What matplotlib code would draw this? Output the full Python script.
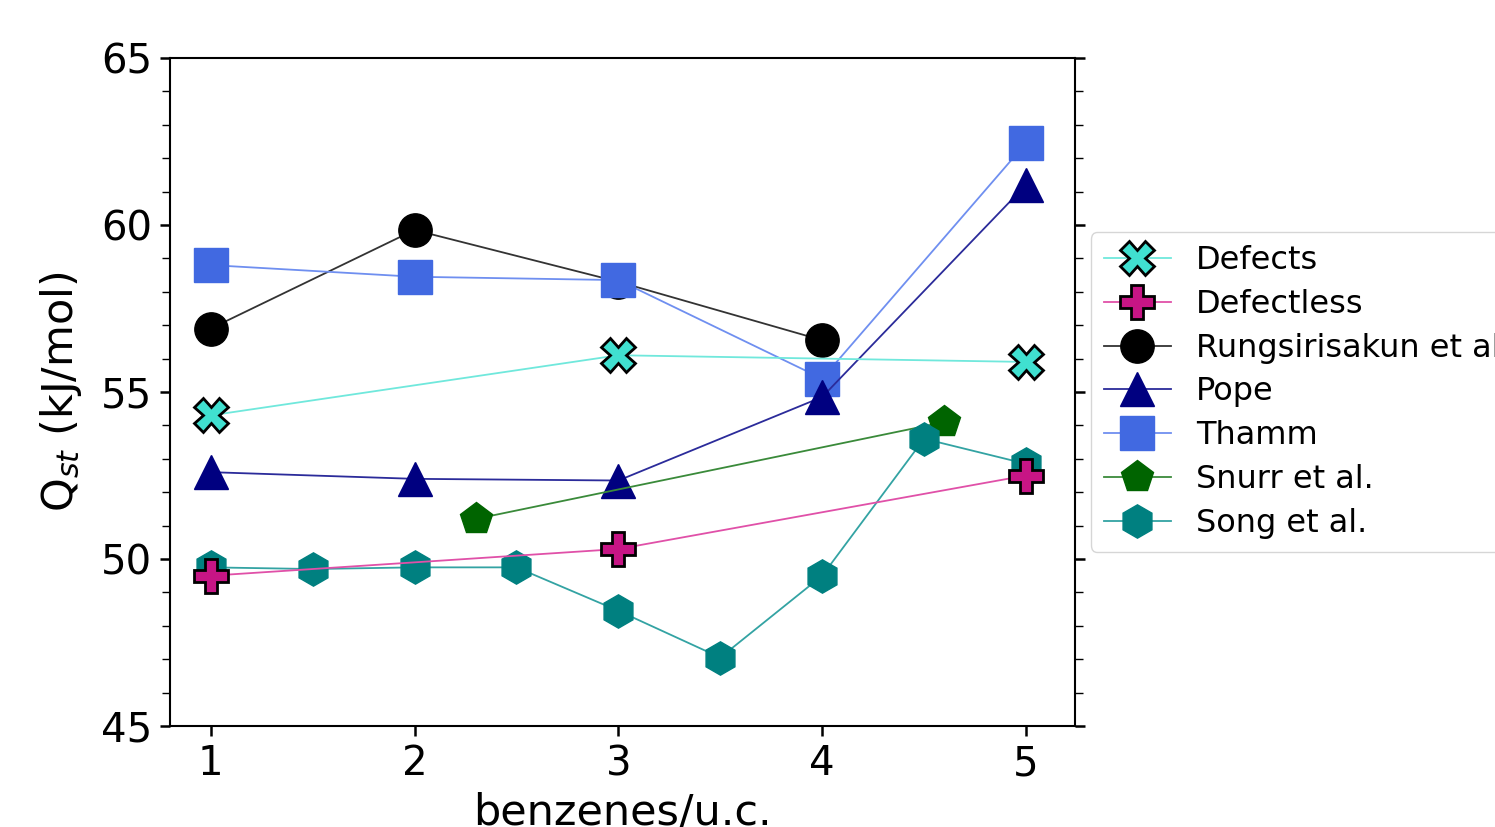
import numpy as np
import matplotlib
matplotlib.use("Agg")
import matplotlib.pyplot as plt
from matplotlib.ticker import MultipleLocator

# data
x_def = [1, 3, 5]
q_def = [54.3, 56.1, 55.9]
x_defless = [1, 3, 5]
q_defless = [49.5, 50.3, 52.5]
x_rung = [1, 2, 3, 4]
q_rung = [56.9, 59.85, 58.3, 56.55]
x_pope = [1, 2, 3, 4, 5]
q_pope = [52.6, 52.4, 52.35, 54.85, 61.2]
x_thamm = [1, 2, 3, 4, 5]
q_thamm = [58.8, 58.45, 58.35, 55.4, 62.45]
x_snurr = [2.3, 4.6]
q_snurr = [51.2, 54.1]
x_song = [1, 1.5, 2, 2.5, 3, 3.5, 4, 4.5, 5]
q_song = [49.75, 49.7, 49.75, 49.75, 48.45, 47.05, 49.5, 53.6, 52.85]

fig = plt.figure(figsize=(14.95, 8.27), dpi=100)
ax = fig.add_axes([0.1137, 0.1221, 0.6053, 0.8078])

ms = 24
lw = 1.3
h = {}
# lines are a bit lighter than the marker faces
h['rung'], = ax.plot(x_rung, q_rung, '-o', color='#333333', mfc='black', mec='black',
                     lw=lw, ms=ms, label='Rungsirisakun et al.')
h['thamm'], = ax.plot(x_thamm, q_thamm, '-s', color='#6f8ff0', mfc='royalblue', mec='royalblue',
                      lw=lw, ms=ms, label='Thamm')
h['pope'], = ax.plot(x_pope, q_pope, '-^', color='#2b2b9a', mfc='navy', mec='navy',
                     lw=lw, ms=ms, label='Pope')
h['snurr'], = ax.plot(x_snurr, q_snurr, '-p', color='#3a8a3a', mfc='darkgreen', mec='darkgreen',
                      lw=lw, ms=ms, label='Snurr et al.')
h['song'], = ax.plot(x_song, q_song, '-h', color='#33a3a3', mfc='teal', mec='teal',
                     lw=lw, ms=ms, label='Song et al.')
h['def'], = ax.plot(x_def, q_def, '-X', color='#70e8dc', mfc='turquoise', mec='black',
                    mew=2, lw=lw, ms=ms, label='Defects')
h['defless'], = ax.plot(x_defless, q_defless, '-P', color='#e050a8', mfc='mediumvioletred',
                        mec='black', mew=2, lw=lw, ms=ms, label='Defectless')

ax.set_xlim(0.8, 5.24)
ax.set_ylim(45, 65)
ax.set_xticks([1, 2, 3, 4, 5])
ax.set_yticks([45, 50, 55, 60, 65])
ax.yaxis.set_minor_locator(MultipleLocator(1))
ax.tick_params(axis='both', which='major', labelsize=29, length=7, width=1.8,
               direction='out', pad=6)
ax.tick_params(axis='y', which='minor', length=6, width=1, direction='out')
ax.tick_params(axis='y', which='both', right=True)
for s in ax.spines.values():
    s.set_linewidth(1.5)

ax.set_xlabel('benzenes/u.c.', fontsize=31, labelpad=6)
ax.set_ylabel(r'Q$_{st}$ (kJ/mol)', fontsize=31, labelpad=12)

order = ['def', 'defless', 'rung', 'pope', 'thamm', 'snurr', 'song']
ax.legend([h[k] for k in order], [h[k].get_label() for k in order],
          loc='center left', bbox_to_anchor=(1.0, 0.5), fontsize=23,
          handlelength=2.1, handletextpad=0.8, labelspacing=0.4, markerscale=1.0)

fig.savefig('out.png', dpi=100)
